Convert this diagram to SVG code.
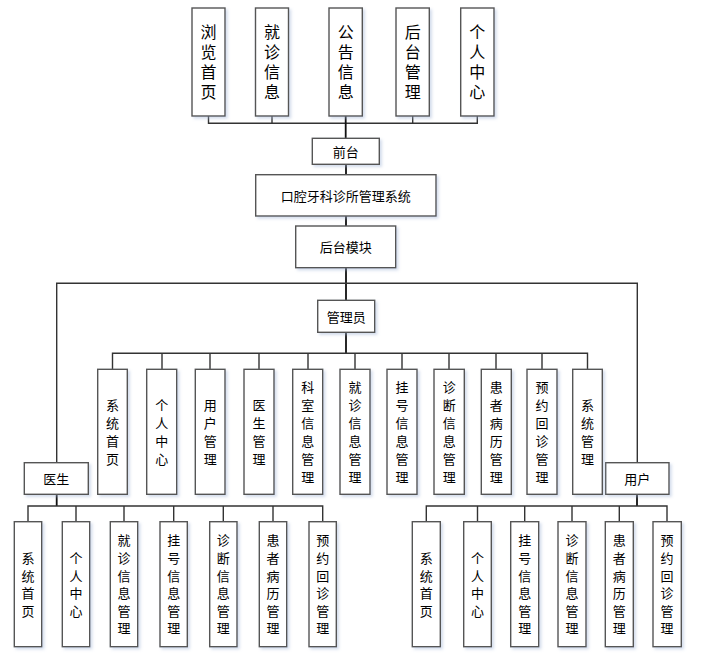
<svg xmlns="http://www.w3.org/2000/svg" width="723" height="653" viewBox="0 0 723 653">
<defs>
<filter id="sh" x="-20%" y="-20%" width="150%" height="150%">
<feDropShadow dx="2" dy="2" stdDeviation="1.5" flood-color="#9fb4d6" flood-opacity="0.45"/>
</filter>
</defs>
<style>
.box{fill:#fff;stroke:#555;stroke-width:1.4;filter:url(#sh)}
.t{font-family:"Noto Sans CJK SC","Noto Sans",sans-serif;fill:#000;text-anchor:middle;dominant-baseline:central}
.h{font-size:13px}
.v{writing-mode:vertical-rl;text-orientation:upright}
.vt{font-size:16px;letter-spacing:4px}
.vm{font-size:13px;letter-spacing:5px}
.vb{font-size:13px;letter-spacing:4.6px}
.conn{fill:none;stroke:#333;stroke-width:1.4}
.trunk{fill:none;stroke:#111;stroke-width:1.8}
</style>
<rect width="723" height="653" fill="#fff"/>
<g id="connectors">
<path class="conn" d="M208.5 116V123.3H477.3V116M272 116V123.3M412.7 116V123.3"/>
<path class="trunk" d="M345.7 116V138.3M346 164.3V174.7M346 216V226M346 267.7V300.3"/>
<path class="conn" d="M56.7 462.7V283.3H637.3V462.7"/>
<path class="trunk" d="M346 332.3V353.3"/>
<path class="conn" d="M112.5 369.3V353.3H587.5V369.3M162 353.3V369.3M210 353.3V369.3M259 353.3V369.3M308 353.3V369.3M355 353.3V369.3M402 353.3V369.3M449 353.3V369.3M496 353.3V369.3M542 353.3V369.3"/>
<path class="trunk" d="M56.7 494.3V506M637 494.3V506"/>
<path class="conn" d="M28 521.7V506H322.7V521.7M76 506V521.7M124 506V521.7M173.7 506V521.7M223.3 506V521.7M273 506V521.7"/>
<path class="conn" d="M426.3 521.7V506H667V521.7M477.5 506V521.7M524.7 506V521.7M572 506V521.7M619.3 506V521.7"/>
</g>
<g id="top-1"><rect class="box" x="192" y="8" width="33" height="108"/><text class="t v vt" x="208.5" y="64">浏览首页</text></g>
<g id="top-2"><rect class="box" x="255.5" y="8" width="33" height="108"/><text class="t v vt" x="272" y="64">就诊信息</text></g>
<g id="top-3"><rect class="box" x="329" y="8" width="33.3" height="108"/><text class="t v vt" x="345.7" y="64">公告信息</text></g>
<g id="top-4"><rect class="box" x="396" y="8" width="33.3" height="108"/><text class="t v vt" x="412.7" y="64">后台管理</text></g>
<g id="top-5"><rect class="box" x="460.7" y="8" width="33.3" height="108"/><text class="t v vt" x="477.3" y="64">个人中心</text></g>
<g id="qiantai"><rect class="box" x="312.3" y="138.3" width="67" height="26"/><text class="t h" x="345.8" y="151.3">前台</text></g>
<g id="system"><rect class="box" x="255.7" y="174.7" width="180.3" height="41.3"/><text class="t h" x="345.8" y="195.3">口腔牙科诊所管理系统</text></g>
<g id="houtai"><rect class="box" x="295.7" y="226" width="100" height="41.7"/><text class="t h" x="345.7" y="246.8">后台模块</text></g>
<g id="admin"><rect class="box" x="317.7" y="300.3" width="57" height="32"/><text class="t h" x="346.2" y="316.3">管理员</text></g>
<g id="doctor"><rect class="box" x="24.3" y="462.7" width="64" height="31.6"/><text class="t h" x="56.3" y="478.5">医生</text></g>
<g id="user"><rect class="box" x="605.7" y="462.7" width="63.3" height="31.6"/><text class="t h" x="637.3" y="478.5">用户</text></g>
<g id="a1"><rect class="box" x="97.7" y="369.3" width="29.6" height="125"/><text class="t v vm" x="112.5" y="434.5">系统首页</text></g>
<g id="a2"><rect class="box" x="146.7" y="369.3" width="30" height="125"/><text class="t v vm" x="161.7" y="434.5">个人中心</text></g>
<g id="a3"><rect class="box" x="195.3" y="369.3" width="29.7" height="125"/><text class="t v vm" x="210.2" y="434.5">用户管理</text></g>
<g id="a4"><rect class="box" x="244" y="369.3" width="30" height="125"/><text class="t v vm" x="259" y="434.5">医生管理</text></g>
<g id="a5"><rect class="box" x="292.7" y="369.3" width="30" height="125"/><text class="t v vm" x="307.7" y="434.5">科室信息管理</text></g>
<g id="a6"><rect class="box" x="340" y="369.3" width="30" height="125"/><text class="t v vm" x="355" y="434.5">就诊信息管理</text></g>
<g id="a7"><rect class="box" x="387" y="369.3" width="30" height="125"/><text class="t v vm" x="402" y="434.5">挂号信息管理</text></g>
<g id="a8"><rect class="box" x="434" y="369.3" width="30.3" height="125"/><text class="t v vm" x="449.2" y="434.5">诊断信息管理</text></g>
<g id="a9"><rect class="box" x="481.3" y="369.3" width="30" height="125"/><text class="t v vm" x="496.3" y="434.5">患者病历管理</text></g>
<g id="a10"><rect class="box" x="527" y="369.3" width="30" height="125"/><text class="t v vm" x="542" y="434.5">预约回诊管理</text></g>
<g id="a11"><rect class="box" x="572.7" y="369.3" width="29.6" height="125"/><text class="t v vm" x="587.5" y="434.5">系统管理</text></g>
<g id="d1"><rect class="box" x="14.3" y="521.7" width="27.4" height="125"/><text class="t v vb" x="28" y="586.8">系统首页</text></g>
<g id="d2"><rect class="box" x="62.3" y="521.7" width="27.4" height="125"/><text class="t v vb" x="76" y="586.8">个人中心</text></g>
<g id="d3"><rect class="box" x="110.3" y="521.7" width="27.4" height="125"/><text class="t v vb" x="124" y="586.8">就诊信息管理</text></g>
<g id="d4"><rect class="box" x="160" y="521.7" width="27.3" height="125"/><text class="t v vb" x="173.7" y="586.8">挂号信息管理</text></g>
<g id="d5"><rect class="box" x="209.7" y="521.7" width="27.3" height="125"/><text class="t v vb" x="223.3" y="586.8">诊断信息管理</text></g>
<g id="d6"><rect class="box" x="259.3" y="521.7" width="27.4" height="125"/><text class="t v vb" x="273" y="586.8">患者病历管理</text></g>
<g id="d7"><rect class="box" x="309" y="521.7" width="27.3" height="125"/><text class="t v vb" x="322.7" y="586.8">预约回诊管理</text></g>
<g id="u1"><rect class="box" x="412.3" y="521.7" width="28" height="125"/><text class="t v vb" x="426.3" y="586.8">系统首页</text></g>
<g id="u2"><rect class="box" x="463.7" y="521.7" width="27.6" height="125"/><text class="t v vb" x="477.5" y="586.8">个人中心</text></g>
<g id="u3"><rect class="box" x="510.7" y="521.7" width="28" height="125"/><text class="t v vb" x="524.7" y="586.8">挂号信息管理</text></g>
<g id="u4"><rect class="box" x="558" y="521.7" width="28" height="125"/><text class="t v vb" x="572" y="586.8">诊断信息管理</text></g>
<g id="u5"><rect class="box" x="605.3" y="521.7" width="28" height="125"/><text class="t v vb" x="619.3" y="586.8">患者病历管理</text></g>
<g id="u6"><rect class="box" x="653" y="521.7" width="28.3" height="125"/><text class="t v vb" x="667.1" y="586.8">预约回诊管理</text></g>
</svg>
